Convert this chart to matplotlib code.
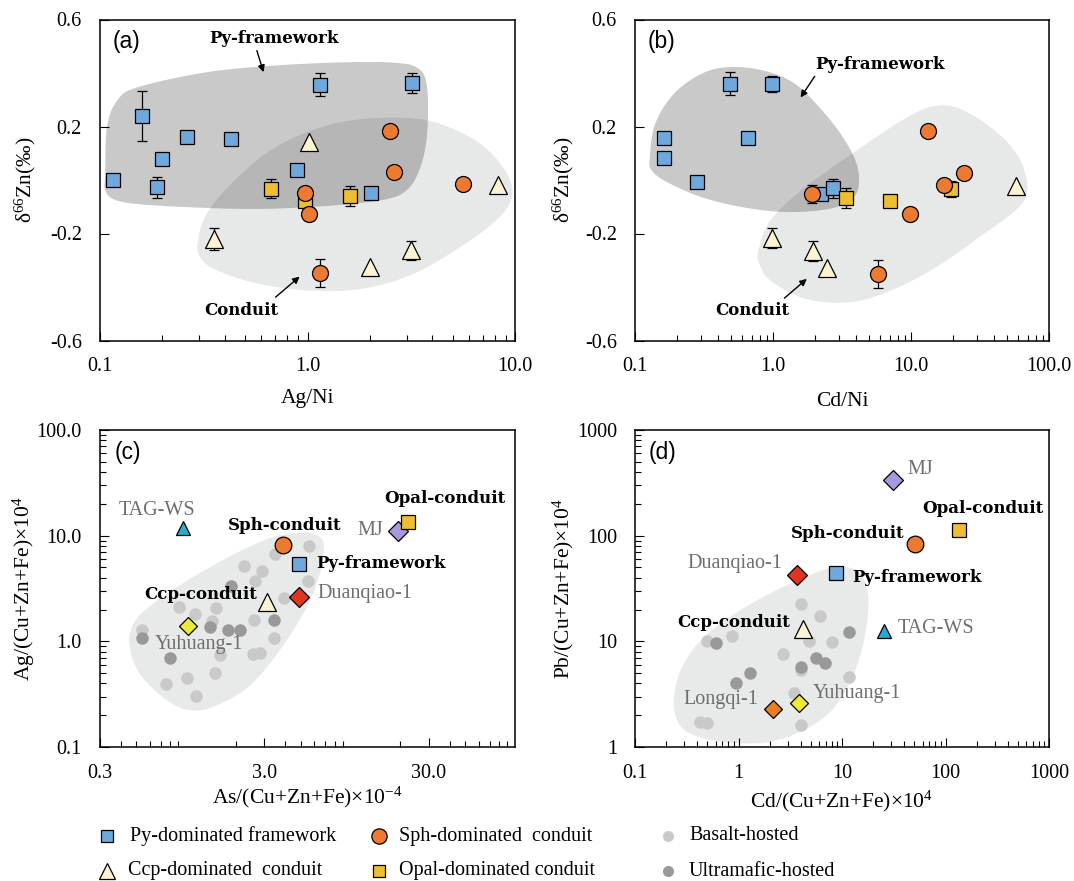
import numpy as np
import matplotlib
matplotlib.use('Agg')
import matplotlib.pyplot as plt
from matplotlib.lines import Line2D
from matplotlib.ticker import LogLocator, NullFormatter, FixedLocator, FixedFormatter

plt.rcParams['font.family'] = ['Liberation Serif', 'DejaVu Serif']
plt.rcParams['mathtext.fontset'] = 'custom'
plt.rcParams['mathtext.rm'] = 'Liberation Serif'
plt.rcParams['mathtext.it'] = 'Liberation Serif:italic'

# ---------------- data: panel (a) delta66Zn vs Ag/Ni ----------------
py_a_x = [0.116, 0.160, 0.199, 0.189, 0.264, 0.428, 1.15, 0.893, 2.03, 3.20]
py_a_y = [0.000, 0.240, 0.080, -0.027, 0.159, 0.155, 0.357, 0.037, -0.048, 0.363]
py_a_e = [0, 0.093, 0.012, 0.039, 0, 0, 0.042, 0, 0, 0.036]
opal_a_x = [0.664, 0.972, 1.61]
opal_a_y = [-0.033, -0.077, -0.060]
opal_a_e = [0.036, 0, 0.039]
sph_a_x = [2.49, 2.61, 5.64, 0.97, 1.02, 1.15]
sph_a_y = [0.183, 0.031, -0.014, -0.048, -0.128, -0.348]
sph_a_e = [0, 0, 0, 0.02, 0.022, 0.053]
ccp_a_x = [1.02, 0.354, 1.99, 3.16, 8.32]
ccp_a_y = [0.143, -0.220, -0.326, -0.263, -0.020]
ccp_a_e = [0, 0.04, 0, 0.035, 0]

# field outlines (a)
fw_a_x = [0.106, 0.108, 0.121, 0.152, 0.327, 0.702, 1.51, 2.67, 3.43, 3.77, 3.77, 3.50, 3.00, 2.21, 1.03, 0.479, 0.185, 0.121, 0.106]
fw_a_y = [0.023, 0.198, 0.297, 0.347, 0.403, 0.428, 0.440, 0.438, 0.416, 0.347, 0.173, 0.048, -0.039, -0.077, -0.101, -0.108, -0.095, -0.077, -0.039]
cd_a_x = [0.297, 0.327, 0.444, 0.702, 1.245, 2.21, 3.92, 6.44, 8.75, 9.73, 8.41, 5.74, 3.24, 1.82, 1.03, 0.580, 0.367, 0.303]
cd_a_y = [-0.226, -0.126, -0.002, 0.123, 0.204, 0.232, 0.220, 0.148, 0.048, -0.052, -0.139, -0.239, -0.351, -0.407, -0.413, -0.388, -0.338, -0.288]

# ---------------- data: panel (b) delta66Zn vs Cd/Ni ----------------
py_b_x = [0.162, 0.162, 0.282, 0.487, 0.98, 0.656, 2.24, 2.73]
py_b_y = [0.156, 0.082, -0.008, 0.360, 0.360, 0.156, -0.052, -0.031]
py_b_e = [0, 0.01, 0, 0.044, 0.03, 0, 0, 0.036]
opal_b_x = [3.4, 7.06, 19.6]
opal_b_y = [-0.067, -0.080, -0.035]
opal_b_e = [0.038, 0, 0.03]
sph_b_x = [13.3, 24.2, 17.4, 9.8, 5.77, 1.92]
sph_b_y = [0.184, 0.027, -0.017, -0.126, -0.352, -0.053]
sph_b_e = [0, 0, 0, 0.015, 0.052, 0.034]
ccp_b_x = [0.99, 1.94, 2.46, 57.3]
ccp_b_y = [-0.217, -0.266, -0.328, -0.024]
ccp_b_e = [0.037, 0.037, 0, 0]

fw_b_x = [0.128, 0.140, 0.191, 0.303, 0.481, 0.855, 1.44, 2.27, 3.21, 4.04, 4.16, 3.60, 2.55, 1.28, 0.605, 0.303, 0.171, 0.132]
fw_b_y = [0.085, 0.210, 0.322, 0.397, 0.422, 0.409, 0.360, 0.260, 0.160, 0.060, -0.027, -0.077, -0.108, -0.120, -0.102, -0.064, -0.008, 0.036]
cd_b_x = [0.784, 0.959, 1.71, 4.04, 8.53, 14.3, 22.7, 40.4, 60.3, 69.7, 60.3, 33.9, 15.2, 7.18, 3.60, 1.71, 0.959, 0.798]
cd_b_y = [-0.264, -0.151, -0.027, 0.110, 0.222, 0.275, 0.266, 0.185, 0.085, -0.027, -0.102, -0.201, -0.326, -0.413, -0.457, -0.444, -0.376, -0.313]

# ---------------- data: panel (c) Ag vs As ----------------
c_names = ['TAG-WS', 'Yuhuang-1', 'Ccp-conduit', 'Sph-conduit', 'Py-framework', 'Duanqiao-1', 'MJ', 'Opal-conduit']
c_x = [0.958, 1.035, 3.11, 3.88, 4.84, 4.86, 19.4, 22.4]
c_y = [11.8, 1.39, 2.38, 8.15, 5.39, 2.65, 11.1, 13.6]
bas_c_x = [5.56, 3.46, 2.25, 2.90, 2.62, 5.53, 3.93, 1.53, 1.13, 0.908, 2.59, 1.61, 2.57, 2.82, 3.43, 0.541, 1.01, 0.755, 1.50, 1.15, 1.43]
bas_c_y = [8.0, 6.65, 5.18, 4.59, 3.76, 3.76, 2.59, 2.09, 1.81, 2.12, 1.59, 0.741, 0.757, 0.778, 1.07, 1.27, 0.449, 0.398, 0.50, 0.303, 1.57]
ult_c_x = [1.88, 1.40, 1.81, 2.13, 3.41, 0.541, 0.80]
ult_c_y = [3.37, 1.38, 1.29, 1.27, 1.59, 1.08, 0.69]
env_c_x = [0.452, 0.510, 0.713, 1.10, 1.97, 3.34, 5.17, 6.56, 6.88, 6.41, 5.54, 4.47, 3.34, 2.39, 1.62, 1.15, 0.825, 0.589, 0.486]
env_c_y = [1.09, 1.69, 2.61, 4.03, 6.71, 9.62, 10.7, 9.62, 7.19, 4.03, 2.25, 1.26, 0.659, 0.369, 0.256, 0.221, 0.256, 0.395, 0.611]

# ---------------- data: panel (d) Pb vs Cd ----------------
d_names = ['MJ', 'Opal-conduit', 'Sph-conduit', 'Duanqiao-1', 'Py-framework', 'Ccp-conduit', 'TAG-WS', 'Longqi-1', 'Yuhuang-1']
d_x = [31.2, 133.7, 50.9, 3.71, 8.75, 4.23, 25.4, 2.15, 3.88]
d_y = [337, 113, 83, 42, 44.2, 13.0, 12.4, 2.28, 2.61]
bas_d_x = [4.03, 6.19, 8.02, 2.68, 0.871, 0.492, 11.8, 3.47, 4.03, 0.425, 0.492, 4.78, 4.03]
bas_d_y = [22.7, 17.3, 9.77, 7.53, 11.2, 10.1, 4.64, 3.24, 1.60, 1.71, 1.67, 10.0, 5.37]
ult_d_x = [11.8, 0.605, 1.28, 0.938, 5.55, 6.82, 4.03]
ult_d_y = [12.3, 9.55, 5.07, 4.02, 6.90, 6.19, 5.77]
env_d_x = [0.237, 0.277, 0.439, 0.943, 2.36, 5.48, 9.38, 14.8, 17.9, 16.6, 12.7, 8.04, 4.36, 2.03, 0.943, 0.439, 0.277]
env_d_y = [2.61, 5.38, 10.4, 18.5, 30.7, 44.2, 51.1, 44.2, 26.6, 11.1, 4.66, 2.25, 1.46, 1.12, 1.09, 1.22, 1.57]

# ---------------- styles ----------------
C_PY = '#6FA8DC'
C_SPH = '#EC7A30'
C_OPAL = '#EDBD33'
C_CCP = '#FBF3D2'
C_BAS = '#C9C9C9'
C_ULT = '#999999'
GRAY_TXT = '#6E6E6E'
BOLD = dict(family='DejaVu Serif', weight='bold', fontsize=12)

sym_c = {
    'TAG-WS': ('^', '#2BA9CE', 9.5), 'Yuhuang-1': ('D', '#EEEA3A', 9), 'Ccp-conduit': ('^', C_CCP, 12.5),
    'Sph-conduit': ('o', C_SPH, 12), 'Py-framework': ('s', C_PY, 10), 'Duanqiao-1': ('D', '#E03420', 10),
    'MJ': ('D', '#A898DE', 10), 'Opal-conduit': ('s', C_OPAL, 10), 'Longqi-1': ('D', '#E8801F', 9),
}

W, H = 1074, 881
fig = plt.figure(figsize=(W / 100, H / 100), dpi=100)


def rect(l, r, t, b):
    return [l / W, 1 - b / H, (r - l) / W, (b - t) / H]


ax_a = fig.add_axes(rect(100, 515, 19.5, 340.5))
ax_b = fig.add_axes(rect(635, 1049, 19.5, 340.5))
ax_c = fig.add_axes(rect(100, 515, 430, 747))
ax_d = fig.add_axes(rect(635, 1049, 430, 747))


def smooth_closed(xs, ys, logx, logy, n=30):
    X = np.log10(xs) if logx else np.asarray(xs, float)
    Y = np.log10(ys) if logy else np.asarray(ys, float)
    P = np.column_stack([X, Y])
    N = len(P)
    out = []
    for i in range(N):
        p0, p1, p2, p3 = P[i - 1], P[i], P[(i + 1) % N], P[(i + 2) % N]
        for t in np.linspace(0, 1, n, endpoint=False):
            out.append(0.5 * (2 * p1 + (-p0 + p2) * t + (2 * p0 - 5 * p1 + 4 * p2 - p3) * t * t
                              + (-p0 + 3 * p1 - 3 * p2 + p3) * t ** 3))
    out = np.array(out)
    sx = 10 ** out[:, 0] if logx else out[:, 0]
    sy = 10 ** out[:, 1] if logy else out[:, 1]
    return sx, sy


def style_axes(ax):
    for s in ax.spines.values():
        s.set_linewidth(1.1)
        s.set_color('black')
    ax.tick_params(which='both', direction='in', top=False, right=False, width=0.8, colors='black')
    ax.tick_params(which='major', length=6.5, labelsize=14.5)
    ax.tick_params(which='minor', length=4.5)
    ax.tick_params(axis='x', which='both', pad=12)
    ax.tick_params(axis='y', which='both', pad=13)


def err_pts(ax, x, y, e, zorder=2):
    x = np.asarray(x); y = np.asarray(y); e = np.asarray(e)
    m = e > 0
    if m.any():
        ax.errorbar(x[m], y[m], yerr=e[m], fmt='none', ecolor='black', elinewidth=0.9,
                    capsize=3.5, capthick=0.9, zorder=zorder)


def delta_panel(ax, fw_x, fw_y, cd_x, cd_y, groups, xlim, xticks, xticklabels, xlabel, tag):
    ax.set_xscale('log')
    ax.set_xlim(*xlim)
    ax.set_ylim(-0.6, 0.6)
    sx, sy = smooth_closed(cd_x, cd_y, True, False)
    ax.fill(sx, sy, color='#E7E8E8', lw=0, zorder=0.5)
    sx, sy = smooth_closed(fw_x, fw_y, True, False)
    ax.fill(sx, sy, color='black', alpha=0.21, lw=0, zorder=0.6)
    for (x, y, e, mk, col, ms) in groups:
        err_pts(ax, x, y, e)
        ax.plot(x, y, ls='none', marker=mk, ms=ms, mfc=col, mec='black', mew=0.9, zorder=3)
    ax.set_xticks(xticks)
    ax.set_xticklabels(xticklabels)
    ax.xaxis.set_minor_locator(LogLocator(base=10, subs=np.arange(2, 10)))
    ax.xaxis.set_minor_formatter(NullFormatter())
    ax.set_yticks([-0.6, -0.2, 0.2, 0.6])
    ax.set_yticklabels(['-0.6', '-0.2', '0.2', '0.6'])
    style_axes(ax)
    ax.set_xlabel(xlabel, fontsize=15.5)
    ax.set_ylabel('δ$^{66}$Zn(‰)', fontsize=15.5)
    ax.text(0.064, 0.93, tag, transform=ax.transAxes, family='Liberation Sans', fontsize=16.5,
            ha='center', va='center')


delta_panel(ax_a, fw_a_x, fw_a_y, cd_a_x, cd_a_y,
            [(py_a_x, py_a_y, py_a_e, 's', C_PY, 10), (opal_a_x, opal_a_y, opal_a_e, 's', C_OPAL, 10),
             (sph_a_x, sph_a_y, sph_a_e, 'o', C_SPH, 11.5), (ccp_a_x, ccp_a_y, ccp_a_e, '^', C_CCP, 12.5)],
            (0.1, 10), [0.1, 1, 10], ['0.1', '1.0', '10.0'], 'Ag/Ni', '(a)')
delta_panel(ax_b, fw_b_x, fw_b_y, cd_b_x, cd_b_y,
            [(py_b_x, py_b_y, py_b_e, 's', C_PY, 10), (opal_b_x, opal_b_y, opal_b_e, 's', C_OPAL, 10),
             (sph_b_x, sph_b_y, sph_b_e, 'o', C_SPH, 11.5), (ccp_b_x, ccp_b_y, ccp_b_e, '^', C_CCP, 12.5)],
            (0.1, 100), [0.1, 1, 10, 100], ['0.1', '1.0', '10.0', '100.0'], 'Cd/Ni', '(b)')

arrow = dict(arrowstyle='-|>', color='black', lw=1.0, mutation_scale=10, shrinkA=0, shrinkB=0)
# annotations (a)
ax_a.text(0.419, 0.940, 'Py-framework', transform=ax_a.transAxes, ha='center', va='center', zorder=5, **BOLD)
ax_a.annotate('', xy=(0.394, 0.836), xytext=(0.378, 0.903), xycoords='axes fraction', arrowprops=arrow)
ax_a.text(0.340, 0.093, 'Conduit', transform=ax_a.transAxes, ha='center', va='center', zorder=5, **BOLD)
ax_a.annotate('', xy=(0.481, 0.199), xytext=(0.423, 0.135), xycoords='axes fraction', arrowprops=arrow)
# annotations (b)
ax_b.text(0.592, 0.861, 'Py-framework', transform=ax_b.transAxes, ha='center', va='center', zorder=5, **BOLD)
ax_b.annotate('', xy=(0.400, 0.757), xytext=(0.434, 0.823), xycoords='axes fraction', arrowprops=arrow)
ax_b.text(0.284, 0.094, 'Conduit', transform=ax_b.transAxes, ha='center', va='center', zorder=5, **BOLD)
ax_b.annotate('', xy=(0.415, 0.192), xytext=(0.361, 0.132), xycoords='axes fraction', arrowprops=arrow)


def ratio_panel(ax, names, xs, ys, bas_x, bas_y, ult_x, ult_y, env_x, env_y, xlim, ylim,
                xticks, xticklabels, yticks, yticklabels, xlabel, ylabel, tag, labels):
    ax.set_xscale('log')
    ax.set_yscale('log')
    ax.set_xlim(*xlim)
    ax.set_ylim(*ylim)
    sx, sy = smooth_closed(env_x, env_y, True, True)
    ax.fill(sx, sy, color='#E8E9E9', lw=0, zorder=0.5)
    ax.plot(bas_x, bas_y, ls='none', marker='o', ms=9, mfc=C_BAS, mec='none', zorder=1)
    ax.plot(ult_x, ult_y, ls='none', marker='o', ms=9, mfc=C_ULT, mec='none', zorder=1.1)
    for nm, x, y in zip(names, xs, ys):
        mk, col, ms = sym_c[nm]
        ax.plot([x], [y], ls='none', marker=mk, ms=ms, mfc=col, mec='black', mew=0.9, zorder=3)
    for nm, (tx, ty, ha) in labels.items():
        if nm in ('Sph-conduit', 'Opal-conduit', 'Py-framework', 'Ccp-conduit'):
            ax.text(tx, ty, nm, transform=ax.transAxes, ha=ha, va='center', zorder=5, **BOLD)
        else:
            ax.text(tx, ty, nm, transform=ax.transAxes, ha=ha, va='center', color=GRAY_TXT,
                    fontsize=14.5, zorder=5)
    ax.xaxis.set_major_locator(FixedLocator(xticks))
    ax.xaxis.set_major_formatter(FixedFormatter(xticklabels))
    ax.xaxis.set_minor_locator(LogLocator(base=10, subs=np.arange(2, 10)))
    ax.xaxis.set_minor_formatter(NullFormatter())
    ax.yaxis.set_major_locator(FixedLocator(yticks))
    ax.yaxis.set_major_formatter(FixedFormatter(yticklabels))
    ax.yaxis.set_minor_locator(LogLocator(base=10, subs=np.arange(2, 10)))
    ax.yaxis.set_minor_formatter(NullFormatter())
    style_axes(ax)
    ax.set_xlabel(xlabel, fontsize=15.5)
    ax.set_ylabel(ylabel, fontsize=15.5)
    ax.text(0.066, 0.93, tag, transform=ax.transAxes, family='Liberation Sans', fontsize=16.5,
            ha='center', va='center')


labels_c = {
    'TAG-WS': (0.137, 0.745, 'center'), 'Sph-conduit': (0.444, 0.698, 'center'),
    'Opal-conduit': (0.830, 0.785, 'center'), 'MJ': (0.651, 0.682, 'center'),
    'Py-framework': (0.521, 0.580, 'left'), 'Duanqiao-1': (0.524, 0.483, 'left'),
    'Ccp-conduit': (0.242, 0.481, 'center'), 'Yuhuang-1': (0.238, 0.323, 'center'),
}
labels_d = {
    'MJ': (0.688, 0.874, 'center'), 'Opal-conduit': (0.840, 0.753, 'center'),
    'Sph-conduit': (0.514, 0.672, 'center'), 'Duanqiao-1': (0.242, 0.578, 'center'),
    'Py-framework': (0.682, 0.536, 'center'), 'Ccp-conduit': (0.238, 0.394, 'center'),
    'TAG-WS': (0.726, 0.375, 'center'), 'Longqi-1': (0.208, 0.149, 'center'),
    'Yuhuang-1': (0.537, 0.170, 'center'),
}

ratio_panel(ax_c, c_names, c_x, c_y, bas_c_x, bas_c_y, ult_c_x, ult_c_y, env_c_x, env_c_y,
            (0.3, 100), (0.1, 100), [0.3, 3, 30], ['0.3', '3.0', '30.0'],
            [0.1, 1, 10, 100], ['0.1', '1.0', '10.0', '100.0'],
            'As/(Cu+Zn+Fe)×10$^{-4}$', 'Ag/(Cu+Zn+Fe)×10$^{4}$', '(c)', labels_c)
ratio_panel(ax_d, d_names, d_x, d_y, bas_d_x, bas_d_y, ult_d_x, ult_d_y, env_d_x, env_d_y,
            (0.1, 1000), (1, 1000), [0.1, 1, 10, 100, 1000], ['0.1', '1', '10', '100', '1000'],
            [1, 10, 100, 1000], ['1', '10', '100', '1000'],
            'Cd/(Cu+Zn+Fe)×10$^{4}$', 'Pb/(Cu+Zn+Fe)×10$^{4}$', '(d)', labels_d)

# axis label positions
for ax, xl_y, yl_x in [(ax_a, -0.181, -0.179), (ax_b, -0.189, -0.173), (ax_c, -0.160, -0.183), (ax_d, -0.172, -0.173)]:
    ax.xaxis.label.set_va('center')
    ax.xaxis.set_label_coords(0.5, xl_y)
    ax.yaxis.label.set_va('center')
    ax.yaxis.set_label_coords(yl_x, 0.5)

# ---------------- legend ----------------
leg_items = [
    (107, 836, 's', C_PY, 8.5, 'black', 'Py-dominated framework', 130),
    (379, 836, 'o', C_SPH, 11, 'black', 'Sph-dominated  conduit', 399),
    (668, 836, 'o', C_BAS, 8, 'none', 'Basalt-hosted', 689),
    (107, 871, '^', C_CCP, 11, 'black', 'Ccp-dominated  conduit', 128),
    (379, 871, 's', C_OPAL, 8.5, 'black', 'Opal-dominated conduit', 399),
    (668, 871, 'o', C_ULT, 8, 'none', 'Ultramafic-hosted', 689),
]
for (mx, my, mk, col, ms, ec, txt, tx) in leg_items:
    fig.add_artist(Line2D([mx / W], [1 - my / H], transform=fig.transFigure, ls='none', marker=mk,
                          ms=ms, mfc=col, mec=ec, mew=0.9))
    fig.text(tx / W, 1 - my / H, txt, ha='left', va='center', fontsize=14.5)

fig.savefig('out.png', dpi=100)
